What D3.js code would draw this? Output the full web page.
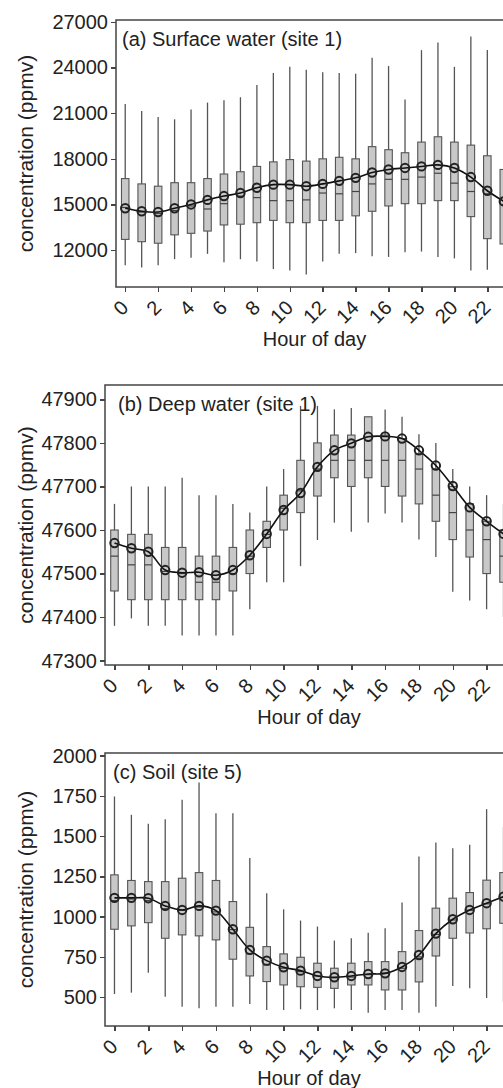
<!DOCTYPE html>
<html>
<head>
    <meta charset="utf-8">
    <title>Diurnal concentration boxplots</title>
    <script src="https://d3js.org/d3.v7.min.js"></script>
    <style>
        body { margin: 0; background: #fff; }
        svg { display: block; }
        .axis path, .axis line { stroke: #444; stroke-width: 1.5; shape-rendering: crispEdges; }
        .axis text { font-family: "Liberation Sans", Arial, sans-serif; font-size: 20px; fill: #222; }
        .label { font-family: "Liberation Sans", Arial, sans-serif; font-size: 20px; fill: #222; }
        .ytitle { font-size: 21px; }
        .whisker { stroke: #555; stroke-width: 1.3; }
        .box { fill: #c8c8c8; stroke: #555; stroke-width: 1.1; }
        .median { stroke: #444; stroke-width: 1.2; }
        .meanline { fill: none; stroke: #111; stroke-width: 1.6; }
        .meanpt { fill: none; stroke: #222; stroke-width: 2; }
    </style>
</head>
<body>
<svg width="503" height="1088"></svg>
<script>
// hours of the day
var hours = d3.range(24);
var hourTicks = [0, 2, 4, 6, 8, 10, 12, 14, 16, 18, 20, 22];

// (a) surface water, site 1
var surfLo   = [11000,10850,11000,11400,11500,11750,11200,11400,11250,10750,10650,10400,11250,11750,11800,11600,11550,11850,11900,11550,11450,10650,10700,10700];
var surfQ1   = [12700,12550,12450,13000,13100,13250,13650,13700,13800,13950,13800,13800,13950,13950,14250,14550,14900,15050,15050,15250,15250,14200,12750,12400];
var surfMed  = [14800,14500,14400,14600,14900,14700,15050,15550,15450,15250,15250,15300,15750,15700,15850,16350,16650,16650,16800,17050,16400,15850,15700,15000];
var surfQ3   = [16700,16350,16200,16430,16430,16700,17000,17150,17500,17800,17950,17850,18000,18100,18000,18800,18600,18400,19100,19450,19100,18900,18200,17300];
var surfHi   = [21600,21150,20750,20600,21250,21700,21850,22050,22850,23650,24050,23850,23700,23650,23600,24650,24100,21900,25150,25650,24050,26050,25150,23500];
var surfMean = [14750,14550,14500,14750,15000,15300,15550,15750,16100,16300,16300,16200,16350,16550,16750,17100,17300,17400,17500,17600,17400,16800,15900,15200];
var surfTicks = [12000, 15000, 18000, 21000, 24000, 27000];

// (b) deep water, site 1
var deepLo   = [47380,47397,47380,47380,47358,47358,47358,47358,47418,47480,47480,47517,47577,47617,47596,47617,47638,47617,47578,47538,47458,47438,47418,47400];
var deepQ1   = [47460,47440,47440,47440,47440,47440,47440,47460,47500,47560,47600,47640,47678,47720,47700,47720,47700,47678,47660,47620,47578,47538,47500,47480];
var deepMed  = [47540,47520,47520,47505,47500,47480,47480,47500,47540,47590,47650,47690,47740,47760,47760,47760,47760,47760,47740,47680,47640,47600,47578,47540];
var deepQ3   = [47600,47590,47590,47560,47560,47540,47540,47560,47600,47620,47680,47760,47800,47818,47818,47860,47818,47810,47775,47740,47700,47660,47620,47600];
var deepHi   = [47660,47700,47700,47700,47720,47680,47680,47660,47640,47700,47740,47885,47885,47877,47880,47860,47877,47860,47820,47800,47740,47700,47680,47660];
var deepMean = [47570,47558,47550,47508,47502,47503,47496,47508,47542,47591,47646,47685,47745,47783,47799,47814,47815,47810,47783,47748,47701,47652,47620,47591];
var deepTicks = [47300, 47400, 47500, 47600, 47700, 47800, 47900];

// (c) soil, site 5
var soilLo   = [520,528,652,503,441,431,441,441,458,420,420,425,420,431,420,404,420,420,404,441,570,555,495,470];
var soilQ1   = [922,943,963,866,887,881,856,736,632,597,576,565,561,555,576,576,545,545,595,756,866,899,925,959];
var soilMed  = [1100,1110,1100,1050,1040,1060,1030,920,770,700,680,659,632,620,625,640,650,680,750,890,980,1040,1080,1120];
var soilQ3   = [1260,1225,1218,1218,1239,1274,1225,1094,934,814,769,748,711,680,711,721,721,783,914,1053,1115,1150,1227,1274];
var soilHi   = [1747,1633,1577,1606,1726,1834,1643,1643,1364,1146,1046,976,939,852,866,901,928,1088,1374,1461,1426,1447,1668,1556];
var soilMean = [1117,1117,1115,1067,1042,1067,1038,922,794,727,686,665,632,624,632,644,648,688,762,895,984,1042,1084,1125];
var soilTicks = [500, 750, 1000, 1250, 1500, 1750, 2000];

const svg = d3.select("svg");
const plotRight = 513;   // frame continues past the right edge of the picture
const boxW = 7.5;

var panels = [
    { title: "(a) Surface water (site 1)", titleDx: 6,
      left: 116, top: 20, bottom: 287, ydom: [9570, 27130], ticks: surfTicks,
      lo: surfLo, q1: surfQ1, med: surfMed, q3: surfQ3, hi: surfHi, mean: surfMean },
    { title: "(b) Deep water (site 1)", titleDx: 13,
      left: 105, top: 385, bottom: 665, ydom: [47290, 47933], ticks: deepTicks,
      lo: deepLo, q1: deepQ1, med: deepMed, q3: deepQ3, hi: deepHi, mean: deepMean },
    { title: "(c) Soil (site 5)", titleDx: 8,
      left: 105, top: 753, bottom: 1026, ydom: [321, 2017], ticks: soilTicks,
      lo: soilLo, q1: soilQ1, med: soilMed, q3: soilQ3, hi: soilHi, mean: soilMean }
];

panels.forEach(drawPanel);

function drawPanel(p) {
    var x = d3.scaleLinear().domain([-0.56, 23.56]).range([p.left, plotRight]);
    var y = d3.scaleLinear().domain(p.ydom).range([p.bottom, p.top]);
    var g = svg.append("g");

    // frame (top + left + bottom)
    g.append("rect")
        .attr("x", p.left).attr("y", p.top)
        .attr("width", plotRight - p.left).attr("height", p.bottom - p.top)
        .attr("fill", "none").attr("stroke", "#444").attr("stroke-width", 1.5);

    // whiskers
    g.selectAll(".whisker").data(hours).join("line")
        .attr("class", "whisker")
        .attr("x1", d => x(d)).attr("x2", d => x(d))
        .attr("y1", d => y(p.lo[d])).attr("y2", d => y(p.hi[d]));

    // boxes
    g.selectAll(".box").data(hours).join("rect")
        .attr("class", "box")
        .attr("x", d => x(d) - boxW / 2).attr("width", boxW)
        .attr("y", d => y(p.q3[d])).attr("height", d => y(p.q1[d]) - y(p.q3[d]));

    g.selectAll(".median").data(hours).join("line")
        .attr("class", "median")
        .attr("x1", d => x(d) - boxW / 2).attr("x2", d => x(d) + boxW / 2)
        .attr("y1", d => y(p.med[d])).attr("y2", d => y(p.med[d]));

    // mean line + points
    var line = d3.line().curve(d3.curveCatmullRom.alpha(0.5))
        .x(d => x(d)).y(d => y(p.mean[d]));
    g.append("path").datum(hours).attr("class", "meanline").attr("d", line);

    g.selectAll(".meanpt").data(hours).join("circle")
        .attr("class", "meanpt")
        .attr("cx", d => x(d)).attr("cy", d => y(p.mean[d])).attr("r", 4.2);

    // axes
    var yAxis = g.append("g").attr("class", "axis")
        .attr("transform", "translate(" + p.left + ",0)")
        .call(d3.axisLeft(y).tickValues(p.ticks).tickSize(5).tickSizeOuter(0).tickPadding(3).tickFormat(d3.format("d")));
    yAxis.select(".domain").remove();

    var xAxis = g.append("g").attr("class", "axis")
        .attr("transform", "translate(0," + p.bottom + ")")
        .call(d3.axisBottom(x).tickValues(hourTicks).tickSize(5).tickSizeOuter(0).tickFormat(d3.format("d")));
    xAxis.select(".domain").remove();
    xAxis.selectAll("text")
        .attr("x", 0).attr("y", 0).attr("dy", 0)
        .attr("text-anchor", "end")
        .attr("transform", "translate(4,22) rotate(-45)");

    // labels
    g.append("text").attr("class", "label")
        .attr("x", p.left + p.titleDx).attr("y", p.top + 26)
        .text(p.title);

    g.append("text").attr("class", "label")
        .attr("text-anchor", "middle")
        .attr("x", (p.left + plotRight) / 2).attr("y", p.bottom + 59)
        .text("Hour of day");

    g.append("text").attr("class", "label ytitle")
        .attr("text-anchor", "middle")
        .attr("transform", "translate(33," + (p.top + p.bottom) / 2 + ") rotate(-90)")
        .text("concentration (ppmv)");
}
</script>
</body>
</html>
